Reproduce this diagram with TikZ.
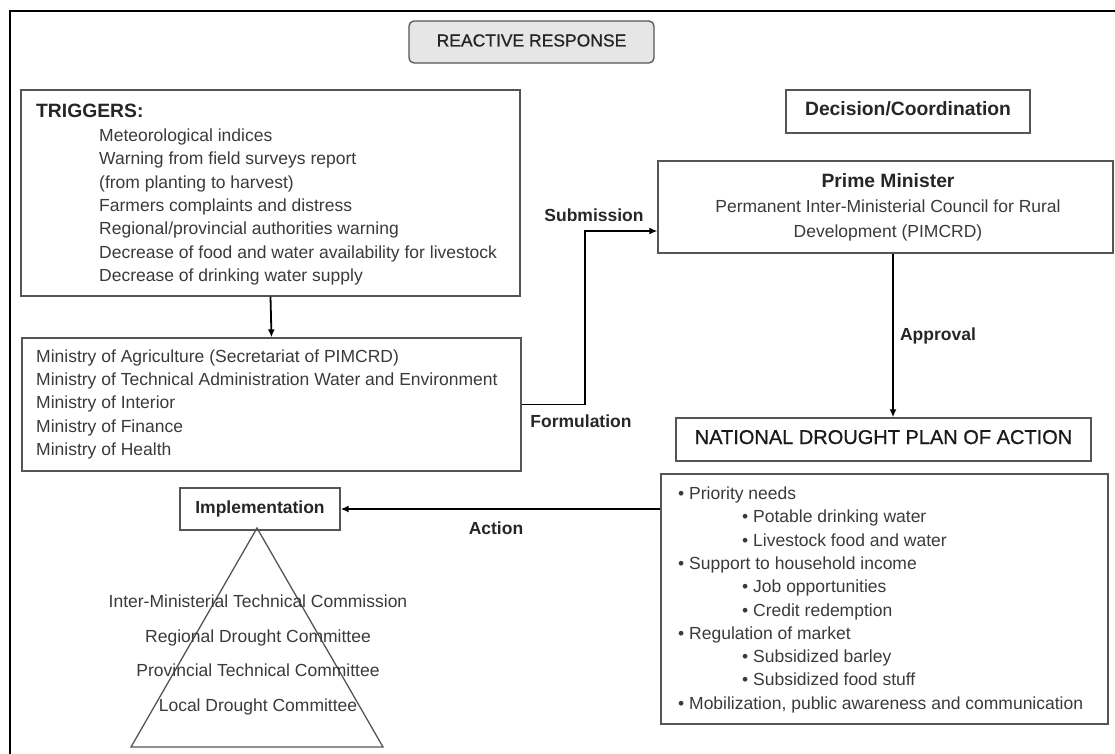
\documentclass[tikz,border=0pt]{standalone}
\usepackage{fontspec}
\setmainfont{Liberation Sans}
\newfontfamily\semiBold[FakeBold=0.8]{Liberation Sans}
\usepackage{tikz}
\usetikzlibrary{positioning}
\usetikzlibrary{arrows.meta}
\definecolor{txtGray}{HTML}{3A3A3A}
\definecolor{boxGray}{HTML}{555555}
\definecolor{fillGray}{HTML}{E6E6E6}

\begin{document}
\begin{tikzpicture}[x=1pt,y=-1pt]

\tikzset
  {
    myBox/.style=  {draw=boxGray, line width=1.3pt, inner sep=0pt},
    myText/.style= {text=txtGray, inner sep=0pt, text height=12.5pt, text depth=3.5pt,
                    font=\fontsize{17.5}{21}\selectfont},
    myBold/.style= {myText, text=black!85, font=\fontsize{17.5}{21}\selectfont\bfseries},
    myArrow/.style={black, line width=1.8pt, -{Latex[length=8pt,width=7pt]}}
  }

\useasboundingbox (0,0) rectangle (1115,754);

% frame
\draw[black, line width=2.5pt] (10,754)--(10,11)--(1115,11);

% boxes
\node[myBox, myText, text=black!85, font=\fontsize{17.5}{21}\semiBold, rounded corners=5pt, fill=fillGray,
      minimum width=245pt, minimum height=42pt] (reactive) at (531.5,42) {REACTIVE RESPONSE};

\node[myBox, minimum width=499pt, minimum height=206pt] (trigBox) at (270.5,193) {};
\node[myBox, minimum width=499pt, minimum height=133pt] (minBox) at (271.5,404.5) {};

\node[myBox, myBold, font=\fontsize{19.3}{23}\selectfont\bfseries,
      minimum width=244pt, minimum height=43pt] (decision) at (908,111.5) {Decision/Coordination};

\node[myBox, minimum width=455pt, minimum height=92pt] (pmBox) at (885.5,207) {};

\node[myBox, myText, text=black!90, font=\fontsize{20}{24}\semiBold,
      minimum width=415pt, minimum height=43pt] (ndpaBox) at (883.5,439.5) {NATIONAL DROUGHT PLAN OF ACTION};

\node[myBox, minimum width=447pt, minimum height=250pt] (planBox) at (884.5,599) {};

\node[myBox, myBold, minimum width=160pt, minimum height=42pt] (implBox) at (260,509) {Implementation};

% triggers
\node[myBold, font=\fontsize{19.3}{23}\selectfont\bfseries, anchor=west] (trigTitle) at (36,113) {TRIGGERS:};
\foreach \t [count=\i from 0] in {Meteorological indices, Warning from field surveys report,
  {(from planting to harvest)}, Farmers complaints and distress,
  Regional/provincial authorities warning,
  Decrease of food and water availability for livestock, Decrease of drinking water supply}
\node[myText, anchor=west] (trig\i) at (99,{137+23.3*\i}) {\t};

% ministries
\foreach \t [count=\i from 0] in {Ministry of Agriculture (Secretariat of PIMCRD),
  Ministry of Technical Administration Water and Environment, Ministry of Interior,
  Ministry of Finance, Ministry of Health}
\node[myText, anchor=west] (min\i) at (36,{358+23.2*\i}) {\t};

% prime minister
\node[myBold, font=\fontsize{19.3}{23}\selectfont\bfseries] (pmTitle) at (888,183) {Prime Minister};
\node[myText] (pm1) at (888,208) {Permanent Inter-Ministerial Council for Rural};
\node[myText] (pm2) at (888,233) {Development (PIMCRD)};

% plan of action
\foreach \t/\x [count=\i from 0] in {Priority needs/678, Potable drinking water/742,
  Livestock food and water/742, Support to household income/678, Job opportunities/742,
  Credit redemption/742, Regulation of market/678, Subsidized barley/742,
  Subsidized food stuff/742, {Mobilization, public awareness and communication}/678}
\node[myText, anchor=west] (plan\i) at (\x,{495+23.3*\i}) {• \t};

% pyramid
\draw[boxGray, line width=1.3pt] (257,528)--(131,747)--(383,747)--cycle;
\foreach \t [count=\i from 0] in {Inter-Ministerial Technical Commission,
  Regional Drought Committee, Provincial Technical Committee, Local Drought Committee}
\node[myText] (level\i) at (258,{603+34.7*\i}) {\t};

% connectors
\draw[myArrow] (trigBox.south) -- (minBox.north);
\draw[myArrow] (minBox.east) -- ++(63,0) |- ([yshift=-24pt]pmBox.west);
\draw[myArrow] ([xshift=7.5pt]pmBox.south) -- ([xshift=7.5pt]pmBox.south |- ndpaBox.north);
\draw[myArrow] (planBox.west |- implBox.east) -- (implBox.east);

\node[myBold] (submission) at (594,217) {Submission};
\node[myBold] (formulation) at (581,423) {Formulation};
\node[myBold] (approval) at (938,336) {Approval};
\node[myBold] (action) at (496,530) {Action};

\end{tikzpicture}
\end{document}
